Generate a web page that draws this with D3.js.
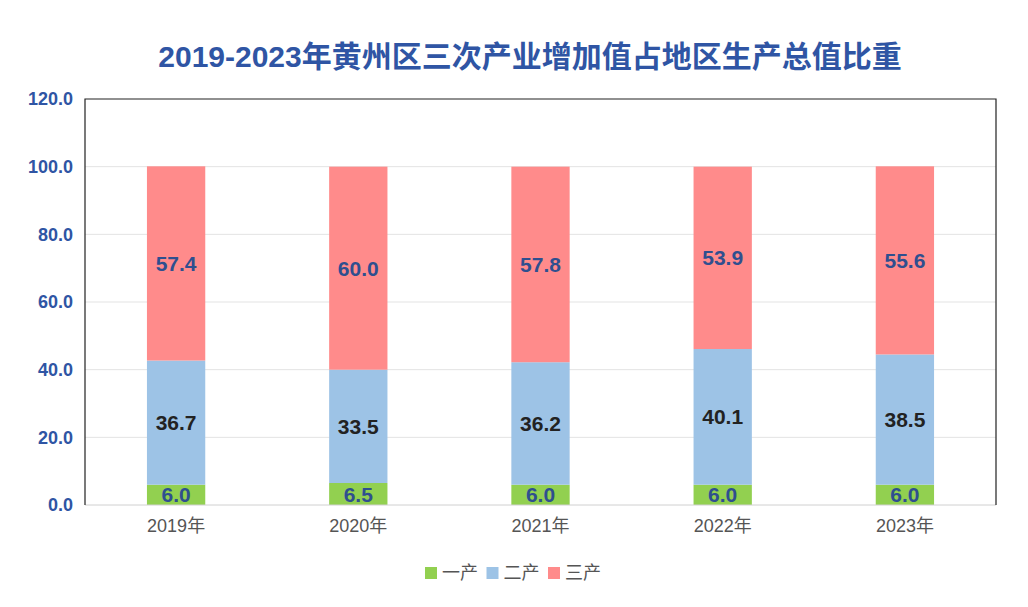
<!DOCTYPE html>
<html>
<head>
<meta charset="utf-8">
<script src="https://cdn.jsdelivr.net/npm/d3@7"></script>
<style>
  body { margin: 0; background: #fff; }
  svg { font-family: "Liberation Sans", Arial, "Noto Sans CJK SC", sans-serif; }
</style>
</head>
<body>
<div id="chart"></div>
<script>
let years = ["2019年", "2020年", "2021年", "2022年", "2023年"];
let primary = [6.0, 6.5, 6.0, 6.0, 6.0];
let secondary = [36.7, 33.5, 36.2, 40.1, 38.5];
let tertiary = [57.4, 60.0, 57.8, 53.9, 55.6];
let seriesNames = ["一产", "二产", "三产"];
let yTicks = [0, 20, 40, 60, 80, 100, 120];

let colors = ["#92d050", "#9dc3e6", "#ff8b8b"];
let labelColors = ["#2f4f8f", "#222222", "#2f4f8f"];

let width = 1028, height = 607;
let margin = { top: 99, right: 32, bottom: 102, left: 85 };

let svg = d3.select("#chart").append("svg")
  .attr("width", width)
  .attr("height", height);

svg.append("text")
  .attr("x", 530)
  .attr("y", 67)
  .attr("text-anchor", "middle")
  .attr("font-size", 30)
  .attr("font-weight", "bold")
  .attr("fill", "#2f55a4")
  .text("2019-2023年黄州区三次产业增加值占地区生产总值比重");

let x = d3.scaleBand()
  .domain(years)
  .range([margin.left, width - margin.right])
  .paddingInner(0.68)
  .paddingOuter(0.34);

let y = d3.scaleLinear()
  .domain([0, 120])
  .range([height - margin.bottom, margin.top]);

// grid lines
svg.append("g")
  .selectAll("line")
  .data(yTicks.slice(1, -1))
  .join("line")
  .attr("x1", margin.left)
  .attr("x2", width - margin.right)
  .attr("y1", d => y(d))
  .attr("y2", d => y(d))
  .attr("stroke", "#e3e3e3");

// stacked data
let rows = years.map((yr, i) => ({ year: yr, s0: primary[i], s1: secondary[i], s2: tertiary[i] }));
let stack = d3.stack().keys(["s0", "s1", "s2"])(rows);

let layers = svg.append("g")
  .selectAll("g")
  .data(stack)
  .join("g")
  .attr("fill", (d, i) => colors[i]);

layers.selectAll("rect")
  .data(d => d)
  .join("rect")
  .attr("x", d => x(d.data.year))
  .attr("width", x.bandwidth())
  .attr("y", d => y(d[1]))
  .attr("height", d => y(d[0]) - y(d[1]));

// value labels
stack.forEach((layer, i) => {
  svg.append("g")
    .selectAll("text")
    .data(layer)
    .join("text")
    .attr("x", d => x(d.data.year) + x.bandwidth() / 2)
    .attr("y", d => (y(d[0]) + y(d[1])) / 2)
    .attr("dy", "0.36em")
    .attr("text-anchor", "middle")
    .attr("font-size", 21)
    .attr("font-weight", "bold")
    .attr("fill", labelColors[i])
    .text(d => (d[1] - d[0]).toFixed(1));
});

// frame: left, top, right dark; bottom light
let x0 = margin.left, x1 = width - margin.right;
let yTop = y(120), yBot = y(0);
svg.append("line").attr("x1", x0).attr("x2", x1).attr("y1", yBot).attr("y2", yBot)
  .attr("stroke", "#d0d0d0");
svg.append("path")
  .attr("d", `M${x0},${yBot}V${yTop}H${x1}V${yBot}`)
  .attr("fill", "none")
  .attr("stroke", "#222")
  .attr("stroke-width", 1.2);

// y axis
let yAxis = svg.append("g")
  .attr("transform", `translate(${margin.left},0)`)
  .call(d3.axisLeft(y).tickValues(yTicks).tickFormat(d3.format(".1f")).tickSize(0).tickPadding(12));
yAxis.select(".domain").remove();
yAxis.selectAll("text")
  .attr("font-size", 18)
  .attr("font-weight", "bold")
  .attr("fill", "#2f55a4")
  .attr("font-family", "Liberation Sans, Arial, sans-serif");

// x axis
let xAxis = svg.append("g")
  .attr("transform", `translate(0,${yBot})`)
  .call(d3.axisBottom(x).tickSize(0).tickPadding(14));
xAxis.select(".domain").remove();
xAxis.selectAll("text")
  .attr("font-size", 18)
  .attr("fill", "#555")
  .attr("font-family", "Liberation Sans, Arial, Noto Sans CJK SC, sans-serif");

// legend
let legend = svg.append("g").attr("transform", "translate(425,567)");
let lx = 0;
seriesNames.forEach((name, i) => {
  let g = legend.append("g").attr("transform", `translate(${lx},0)`);
  g.append("rect").attr("width", 12).attr("height", 12).attr("fill", colors[i]);
  g.append("text")
    .attr("x", 17)
    .attr("y", 6)
    .attr("dy", "0.36em")
    .attr("font-size", 18)
    .attr("fill", "#555")
    .attr("font-family", "Noto Sans CJK SC, sans-serif")
    .text(name);
  lx += 61.5;
});
</script>
</body>
</html>
